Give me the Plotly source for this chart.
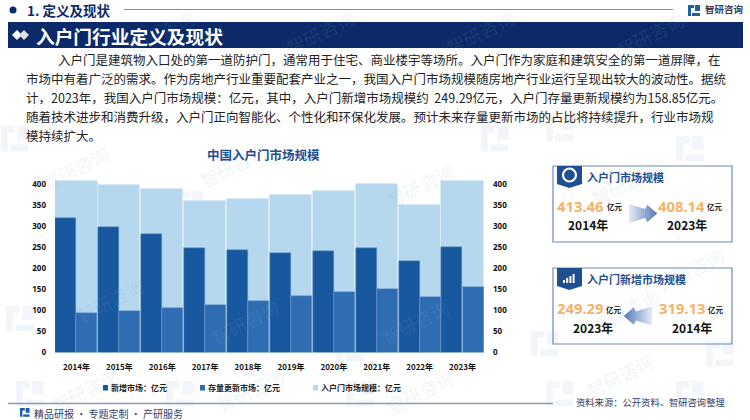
import plotly.graph_objects as go

years = ["2014年","2015年","2016年","2017年","2018年","2019年","2020年","2021年","2022年","2023年"]
market = [408,397,388,360.5,364.5,374,384,400,350,408.14]
new_market = [319.13,298,281,248,243,236,240,249,217,249.29]
stock = [93,99,106,112,122,133,143,150,132,156]
ticks = [0,50,100,150,200,250,300,350,400]

W,H = 750,420
def X(v): return v/W
def Y(v): return 1-v/H

fig = go.Figure()
fig.add_bar(x=years,y=market,name="入户门市场规模：亿元",width=0.985,offset=-0.4925,showlegend=False,marker=dict(color="#b5d8ef",line=dict(color="#d8eaf6",width=1)))
fig.add_bar(x=years,y=new_market,name="新增市场：亿元",width=0.49,offset=-0.4925,showlegend=False,marker=dict(color="#18589f",line=dict(color="#6f9cc9",width=0.5)))
fig.add_bar(x=years,y=stock,name="存量更新市场：亿元",width=0.49,offset=0.0,showlegend=False,marker=dict(color="#2f6db3",line=dict(color="#6f9cc9",width=0.5)))
fig.add_scatter(x=years,y=market,yaxis="y2",mode="lines",line=dict(width=0),opacity=0,showlegend=False,hoverinfo="skip")

shapes=[];ann=[]
def rect(x0,y0,x1,y1,fill="rgba(0,0,0,0)",line=None,lw=1,layer="below"):
    shapes.append(dict(type="rect",xref="paper",yref="paper",x0=X(x0),x1=X(x1),y0=Y(y1),y1=Y(y0),fillcolor=fill,line=dict(color=line or fill,width=lw if line else 0),layer=layer))
def hline(x0,x1,y,c,lw=1):
    shapes.append(dict(type="line",xref="paper",yref="paper",x0=X(x0),x1=X(x1),y0=Y(y),y1=Y(y),line=dict(color=c,width=lw),layer="below"))
def poly(pts,fill,layer="above"):
    p="M"+" L".join(f"{X(a):.5f},{Y(b):.5f}" for a,b in pts)+" Z"
    shapes.append(dict(type="path",xref="paper",yref="paper",path=p,fillcolor=fill,line=dict(width=0),layer=layer))
def text(x,y,s,size,color="#111",anchor="left",bold=False,font="Noto Sans CJK SC",angle=0):
    ann.append(dict(xref="paper",yref="paper",x=X(x),y=Y(y),text=f"<b>{s}</b>" if bold else s,showarrow=False,xanchor=anchor,yanchor="middle",font=dict(size=size,color=color,family=font),textangle=angle,borderpad=0,captureevents=False))
def logo(x,y,c,layer="below",s=1.0):
    poly([(x,y),(x+6*s,y),(x+6*s,y+3*s),(x+3*s,y+3*s),(x+3*s,y+11*s),(x,y+11*s)],c,layer)
    poly([(x+7*s,y),(x+12*s,y),(x+12*s,y+6*s),(x+7*s,y+6*s)],c,layer)
    poly([(x+4*s,y+8*s),(x+12*s,y+8*s),(x+12*s,y+11*s),(x+4*s,y+11*s)],c,layer)

# watermarks (faint, behind the page content)
WM="rgba(130,165,200,0.13)"
for (x,y) in [(75,168),(233,165),(420,185),(110,300),(245,322),(415,322),(160,32),(320,32),(480,32),(650,34),(85,390),(250,390),(420,392),(625,183),(625,310),(690,270),(620,375)]:
    text(x,y,"智研咨询",18,WM,anchor="center",angle=-27)
for (x,y) in [(15,140),(190,205),(365,205),(495,140),(20,320),(175,330),(350,350),(545,345),(560,130),(690,150),(720,355),(30,395),(180,395),(360,395),(560,395),(690,395)]:
    logo(x-14,y-14,"rgba(130,170,210,0.10)",s=2.3)

# header
shapes.append(dict(type="circle",xref="paper",yref="paper",x0=X(9.5),x1=X(16.5),y0=Y(13.5),y1=Y(6.5),fillcolor="#0c2a6a",line=dict(width=0)))
text(26,10,"1. 定义及现状",13.5,"#0c2a6a",bold=True)
hline(124,673,9.5,"#7d8bb0",1)
logo(688,5,"#1f5fa8",layer="above",s=1.0)
text(704,9,"智研咨询",9.5,"#3a3a4a",bold=True)
rect(8,22,743,48,"#0c2a6a")
poly([(12,35),(17,30),(22,35),(17,40)],"#ffffff")
poly([(19,35),(24,30),(29,35),(24,40)],"#e0e0e0")
text(35,35,"入户门行业定义及现状",18.7,"#ffffff",bold=True)

# paragraph
lines=[(57,"入户门是建筑物入口处的第一道防护门，通常用于住宅、商业楼宇等场所。入户门作为家庭和建筑安全的第一道屏障，在"),
(25,"市场中有着广泛的需求。作为房地产行业重要配套产业之一，我国入户门市场规模随房地产行业运行呈现出较大的波动性。据统"),
(25,"计，2023年，我国入户门市场规模：亿元，其中，入户门新增市场规模约\u00a0\u00a0249.29亿元，入户门存量更新规模约为158.85亿元。"),
(25,"随着技术进步和消费升级，入户门正向智能化、个性化和环保化发展。预计未来存量更新市场的占比将持续提升，行业市场规"),
(25,"模持续扩大。")]
for i,(x,s) in enumerate(lines):
    text(x,59.3+i*18.95,s,12.5,"#222")

# chart title
text(263,154,"中国入户门市场规模",12.5,"#1f4f93",anchor="center",bold=True)

# manual legend
for mx,s,c in [(103,"新增市场：亿元","#18589f"),(200,"存量更新市场：亿元","#2f6db3"),(313,"入户门市场规模：亿元","#b5d8ef")]:
    rect(mx,385,mx+5,390.5,c)
    text(mx+7,387.5,s,8,"#222",bold=True)

def arrow(x0,x1,cy,d):
    n=14
    L=x1-x0
    for i in range(n):
        t0,t1=i/n,(i+1)/n
        def half(t):
            if t<0.62: return 9.5-5.5*(t/0.62)
            if t<0.63: return 9
            return 9*(1-t)/0.37
        a=[(x0+t0*L if d>0 else x1-t0*L),(x0+t1*L+0.4 if d>0 else x1-t1*L-0.4)]
        c=int(235-(235-90)*t1); g=int(240-(240-125)*t1); b=int(248-(248-185)*t1)
        poly([(a[0],cy-half(t0)),(a[1],cy-half(t1)),(a[1],cy+half(t1)),(a[0],cy+half(t0))],f"rgb({c},{g},{b})")

# cards
for (y0,y1,ttl,v1,yy1,v2,yy2,x1c,x2c,vy,yy,xa,xb,xc,xd,d,ax0) in [
 (166,242,"入户门市场规模","413.46","2014年","408.14","2023年",588,687,205.5,224.5,556,606,657,706,1,629),
 (268,344,"入户门新增市场规模","249.29","2023年","319.13","2014年",593,692,308,327,556,605,658,707,-1,624)]:
    rect(553,y0,732,y1,"rgba(255,255,255,0)","#6d88bd",1.2)
    poly([(557,y0),(582,y0),(582,y0+18),(569.5,y0+22),(557,y0+18)],"#1f4f93")
    if d>0:
        shapes.append(dict(type="circle",xref="paper",yref="paper",x0=X(563),x1=X(576),y0=Y(y0+15.5),y1=Y(y0+2.5),fillcolor="rgba(0,0,0,0)",line=dict(color="#ffffff",width=2.2),layer="above"))
    else:
        for k,h in enumerate([3,5,7,9]):
            rect(563+k*3.2,y0+15-h,565+k*3.2,y0+15,"#ffffff",layer="above")
    text(586,y0+11,ttl,11,"#1f4f93",bold=True)
    text(xa,vy,v1,14.8,"#f6b266",bold=True,font="Noto Sans")
    text(xb,vy+1,"亿元",7.5,"#222",bold=True)
    text(xc,vy,v2,14.8,"#f6b266",bold=True,font="Noto Sans")
    text(xd,vy+1,"亿元",7.5,"#222",bold=True)
    text(x1c,yy,yy1,12,"#111",anchor="center",bold=True)
    text(x2c,yy,yy2,12,"#111",anchor="center",bold=True)
    arrow(ax0,ax0+28,vy+8,d)

# footer
hline(8,553,403.5,"#8d99bd",1.5)
logo(20,408,"#1f5fa8",layer="above",s=0.8)
text(33,413.5,"精品研报 · 专题定制 · 产研服务",10,"#33406b")
text(575,402,"资料来源：公开资料、智研咨询整理",9.3,"#33406b")

axf=dict(size=8,color="#111",family="Noto Sans CJK SC",weight="bold")
numf=dict(size=8,color="#111",family="Noto Sans",weight="bold")
top=(352.5-160)/168.5*400
fig.update_layout(width=W,height=H,autosize=False,paper_bgcolor="white",plot_bgcolor="rgba(0,0,0,0)",
    margin=dict(l=0,r=0,t=0,b=0,pad=0,autoexpand=False),barmode="overlay",bargap=0,shapes=shapes,annotations=ann,showlegend=False,
    xaxis=dict(domain=[X(55),X(484)],anchor="y",tickfont=axf,showgrid=False,showline=False,ticks="",type="category",categoryorder="array",categoryarray=years,range=[-0.5,9.5],ticklabelstandoff=8,automargin=False),
    yaxis=dict(domain=[Y(352.5),Y(160)],range=[0,top],tickvals=ticks,tickfont=numf,showgrid=False,zeroline=False,showline=False,ticklabelstandoff=8,automargin=False),
    yaxis2=dict(overlaying="y",side="right",anchor="x",range=[0,top],tickvals=ticks,tickfont=numf,showgrid=False,zeroline=False,showline=False,ticklabelstandoff=8,automargin=False))
fig.write_html("out.html",config=dict(displayModeBar=False),default_width="750px",default_height="420px",post_script="document.body.style.margin='0';document.documentElement.style.overflow='hidden';")
